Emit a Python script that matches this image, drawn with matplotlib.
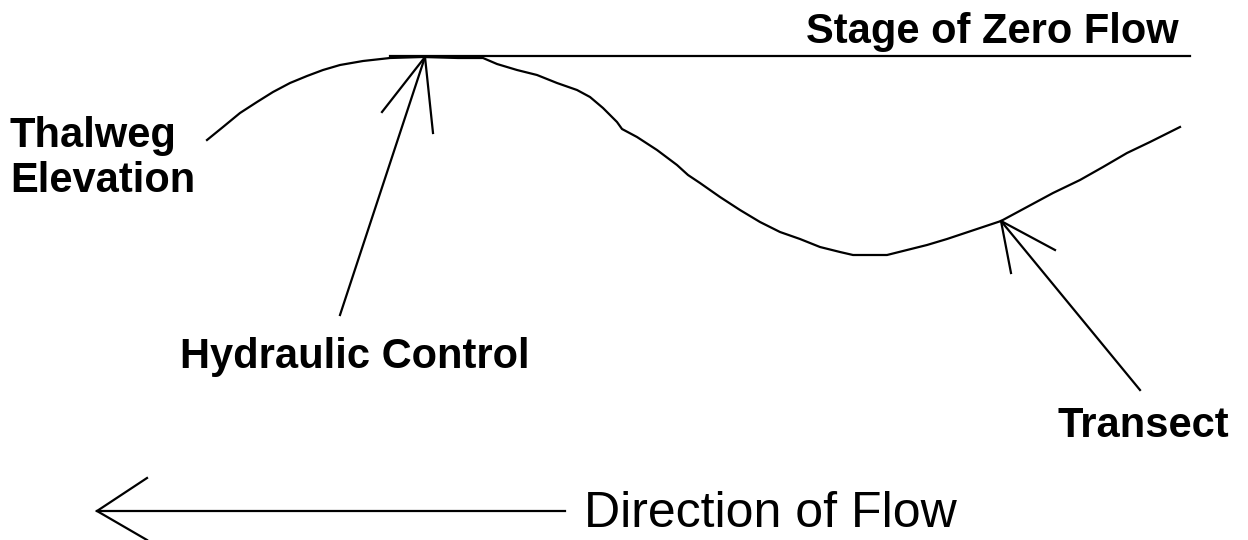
import matplotlib
matplotlib.use("Agg")
import matplotlib.pyplot as plt

# Thalweg profile (pixel coordinates, y downwards)
profile_x = [207, 223, 240, 257, 273, 290, 307, 323, 340, 363, 390, 423, 458, 483,
             497, 517, 537, 557, 577, 590, 603, 617, 622, 637, 657, 677, 688,
             700, 720, 740, 760, 780, 800, 820, 840, 853, 887, 907, 927, 947,
             980, 1001, 1027, 1053, 1080, 1103, 1127, 1150, 1180]
profile_y = [140, 127, 113, 102, 92, 83, 76, 70, 65, 61, 58, 57, 58, 58,
             64, 70, 75, 83, 90, 97, 108, 122, 129, 137, 150, 165, 175,
             183, 197, 210, 222, 232, 239, 247, 252, 255, 255, 250, 245, 239,
             228, 221, 207, 193, 180, 167, 153, 142, 127]

# Stage of zero flow line
zero_flow_x = [390, 1190]
zero_flow_y = [56, 56]

# Arrows: (tail, tip, head-end-1, head-end-2)
hyd_arrow = [(340, 315), (425, 57), (382, 112), (433, 133)]
tran_arrow = [(1140, 390), (1001, 221), (1055, 250), (1011, 273)]
flow_arrow = [(565, 511), (97, 511), (147, 478), (147, 540)]

labels = [
    ("Stage of Zero Flow", 1179, 43, "right", "bold", 30),
    ("Thalweg", 10, 147, "left", "bold", 30),
    ("Elevation", 10, 192, "left", "bold", 30),
    ("Hydraulic Control", 180, 368, "left", "bold", 30),
    ("Transect", 1058, 437, "left", "bold", 30),
    ("Direction of Flow", 584, 527, "left", "normal", 36),
]

plt.rcParams['font.family'] = ['Liberation Sans', 'DejaVu Sans']
fig = plt.figure(figsize=(12.48, 5.40), dpi=100)
ax = fig.add_axes([0, 0, 1, 1])
ax.set_xlim(0, 1248)
ax.set_ylim(540, 0)
ax.axis('off')

lw = 1.6
ax.plot(profile_x, profile_y, color='black', lw=lw, solid_joinstyle='round')
ax.plot(zero_flow_x, zero_flow_y, color='black', lw=lw)

for tail, tip, h1, h2 in [hyd_arrow, tran_arrow, flow_arrow]:
    ax.plot([tail[0], tip[0]], [tail[1], tip[1]], color='black', lw=lw)
    ax.plot([h1[0], tip[0], h2[0]], [h1[1], tip[1], h2[1]], color='black', lw=lw,
            solid_joinstyle='miter')

for text, x, y, ha, weight, size in labels:
    ax.text(x, y, text, ha=ha, va='baseline', fontweight=weight, fontsize=size, color='black')

fig.savefig("out.png", dpi=100, facecolor='white')
